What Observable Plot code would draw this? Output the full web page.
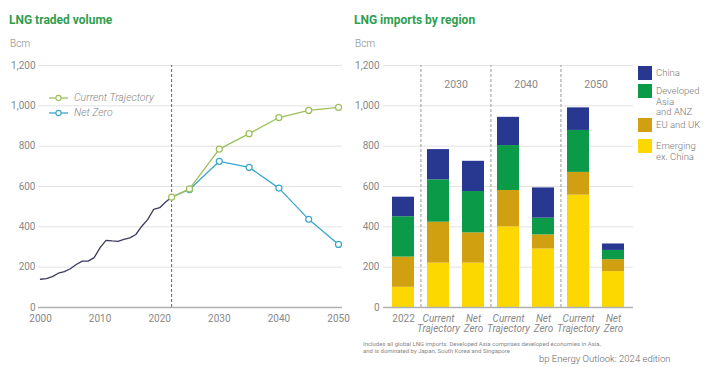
<!DOCTYPE html>
<html><head><meta charset="utf-8">
<script src="https://cdn.jsdelivr.net/npm/d3@7"></script>
<script src="https://cdn.jsdelivr.net/npm/@observablehq/plot@0.6"></script>
<style>
body{margin:0;background:#fff;font-family:Roboto,"Noto Sans",sans-serif;}
#wrap{position:relative;width:728px;height:367px;overflow:hidden;background:#fff;}
.abs{position:absolute;white-space:nowrap;}
.title{font-weight:700;font-size:12px;line-height:14px;color:#2f9e4f;}
.unit{font-size:10px;line-height:12px;color:#888;font-weight:300;}
.lg{font-size:9.5px;line-height:10.5px;height:10.5px;color:#777;font-weight:300;overflow:visible;}
.sw{width:14px;height:14px;}
.leg2{font-size:10.5px;color:#888;font-style:italic;font-weight:300;line-height:12px;display:flex;align-items:center;}
.note{font-size:6px;line-height:7px;color:#888;}
.src{font-size:9.5px;color:#666;font-weight:300;line-height:12px;}
svg text{font-family:Roboto,"Noto Sans",sans-serif;}
</style></head>
<body><div id="wrap"></div>
<script>
// ---- data: left chart ----
const histYears = [2000,2001,2002,2003,2004,2005,2006,2007,2008,2009,2010,2011,2012,2013,2014,2015,2016,2017,2018,2019,2020,2021,2022];
const histValues = [140,143,153,170,178,192,213,230,230,247,297,333,330,328,338,345,362,403,437,487,495,523,547];
const scenYears = [2022,2025,2030,2035,2040,2045,2050];
const ctValues = [547,588,785,862,942,977,992];
const nzValues = [547,585,725,695,592,437,313];
const xTicks = [2000,2010,2020,2030,2040,2050];
const yTicks = [0,200,400,600,800,1000,1200];

// ---- data: right chart ----
const barKeys = ["2022","CT2030","NZ2030","CT2040","NZ2040","CT2050","NZ2050"];
const barLabels = ["2022","Current\nTrajectory","Net\nZero","Current\nTrajectory","Net\nZero","Current\nTrajectory","Net\nZero"];
const groupKeys = ["CT2030","CT2040","CT2050"];
const groupLabels = ["2030","2040","2050"];
const regions = ["Emerging ex. China","EU and UK","Developed Asia and ANZ","China"];
const regionColors = ["#fcd800","#d1a010","#0b9a48","#283891"];
const emerging = [100,220,220,400,290,557,178];
const euUk = [150,203,150,180,70,113,59];
const devAsia = [200,210,205,223,83,208,46];
const china = [97,150,150,140,150,112,32];

const wrap = document.getElementById("wrap");
function add(html, cls, style){const d=document.createElement("div");d.className="abs "+cls;d.style.cssText=style;d.innerHTML=html;wrap.appendChild(d);return d;}

const fmt = d3.format(",");
const green = "#9dbf5b", blue = "#3aa7c9", navy = "#3a3a5e";

// Left chart
const hist = histYears.map((y,i)=>({year:y,value:histValues[i]}));
const ct = scenYears.map((y,i)=>({year:y,value:ctValues[i]}));
const nz = scenYears.map((y,i)=>({year:y,value:nzValues[i]}));

const left = Plot.plot({
  width: 350, height: 280,
  marginLeft: 40, marginRight: 12, marginTop: 10, marginBottom: 28,
  style: {fontSize: "10px", color: "#888", background: "transparent"},
  x: {domain:[2000,2050], ticks: xTicks, tickFormat: d=>String(d), tickSize: 0, tickPadding: 7, label: null},
  y: {domain:[0,1200], ticks: yTicks, tickFormat: fmt, tickSize: 0, tickPadding: 5, label: null},
  marks: [
    Plot.ruleY(yTicks.filter(d=>d>0), {stroke:"#e2e2e2", insetLeft:-2, insetRight:-4}),
    Plot.ruleY([0], {stroke:"#b0b0b0", strokeWidth:1.5, insetLeft:-2, insetRight:-4}),
    Plot.ruleX([2022], {y1:0, y2:1200, stroke:"#666", strokeDasharray:"3,2"}),
    Plot.line(hist, {x:"year", y:"value", stroke:navy, strokeWidth:1.3}),
    Plot.line(nz, {x:"year", y:"value", stroke:blue, strokeWidth:1.3}),
    Plot.dot(nz.slice(1), {x:"year", y:"value", r:3, stroke:blue, fill:"#fff", strokeWidth:1.2}),
    Plot.line(ct, {x:"year", y:"value", stroke:green, strokeWidth:1.3}),
    Plot.dot(ct, {x:"year", y:"value", r:3, stroke:green, fill:"#fff", strokeWidth:1.2})
  ]
});
left.style.position="absolute"; left.style.left="0px"; left.style.top="55px";
wrap.appendChild(left);

// Right chart
const series = [emerging, euUk, devAsia, china];
const bars = [];
barKeys.forEach((k,i)=>{ regions.forEach((r,j)=>bars.push({key:k, region:r, value:series[j][i]})); });
const pIn = 0.36, pOut = 0.24, plotW = 378-33-95;
const step = plotW/(barKeys.length - pIn + 2*pOut);

const right = Plot.plot({
  width: 378, height: 280,
  marginLeft: 33, marginRight: 95, marginTop: 10, marginBottom: 28,
  style: {fontSize: "10px", color: "#888", background: "transparent"},
  x: {domain: barKeys, paddingInner: pIn, paddingOuter: pOut, axis: null},
  y: {domain:[0,1200], ticks: yTicks, tickFormat: fmt, tickSize: 0, tickPadding: 4, label: null},
  color: {domain: regions, range: regionColors},
  marks: [
    Plot.ruleY(yTicks.filter(d=>d>0), {stroke:"#e2e2e2"}),
    Plot.barY(bars, {x:"key", y:"value", fill:"region"}),
    Plot.ruleY([0], {stroke:"#b0b0b0", strokeWidth:1.5}),
    Plot.ruleX(groupKeys, {x:d=>d, dx:-step/2, y1:0, y2:1200, stroke:"#999", strokeDasharray:"3,2"}),
    Plot.text(groupKeys, {x:d=>d, dx:step/2, frameAnchor:"top", dy:15, text:(d,i)=>groupLabels[i], fill:"#888", fontSize:10.5}),
    Plot.text([barKeys[0]], {x:d=>d, frameAnchor:"bottom", lineAnchor:"top", dy:7, text:(d,i)=>barLabels[0], fill:"#888"}),
    Plot.text(barKeys.slice(1), {x:d=>d, frameAnchor:"bottom", lineAnchor:"top", dy:7, text:(d,i)=>barLabels[i+1], fill:"#888", fontStyle:"italic", lineHeight:1.0})
  ]
});
right.style.position="absolute"; right.style.left="350px"; right.style.top="55px";
wrap.appendChild(right);

// Titles and units
add("LNG traded volume","title","left:9px;top:13px;");
add("LNG imports by region","title","left:354px;top:13px;");
add("Bcm","unit","left:10px;top:38px;");
add("Bcm","unit","left:355px;top:38px;");

// Left legend
function legRow(label,color,top){
  add(`<svg width="22" height="8" style="margin-right:4px"><line x1="1" x2="20" y1="4" y2="4" stroke="${color}" stroke-width="1.3"/><circle cx="10.5" cy="4" r="2.6" fill="#fff" stroke="${color}" stroke-width="1.1"/></svg>${label}`,"leg2",`left:48px;top:${top}px;`);
}
legRow("Current Trajectory", green, 92);
legRow("Net Zero", blue, 107);

// Right legend (top to bottom: China first)
const legTops = [66, 84, 118, 139];
const legLines = [["China"],["Developed","Asia","and ANZ"],["EU and UK"],["Emerging","ex. China"]];
[3,2,1,0].forEach((ri,idx)=>{
  add("","sw",`left:638px;top:${legTops[idx]}px;background:${regionColors[ri]};`);
  legLines[idx].forEach((t,li)=>add(t,"lg",`left:656px;top:${legTops[idx]+2+li*10.5}px;`));
});

// Notes
add("Includes all global LNG imports. Developed Asia comprises developed economies in Asia,<br>and is dominated by Japan, South Korea and Singapore","note","left:363px;top:340px;");
add("bp Energy Outlook: 2024 edition","src","left:539px;top:353px;");
</script></body></html>
